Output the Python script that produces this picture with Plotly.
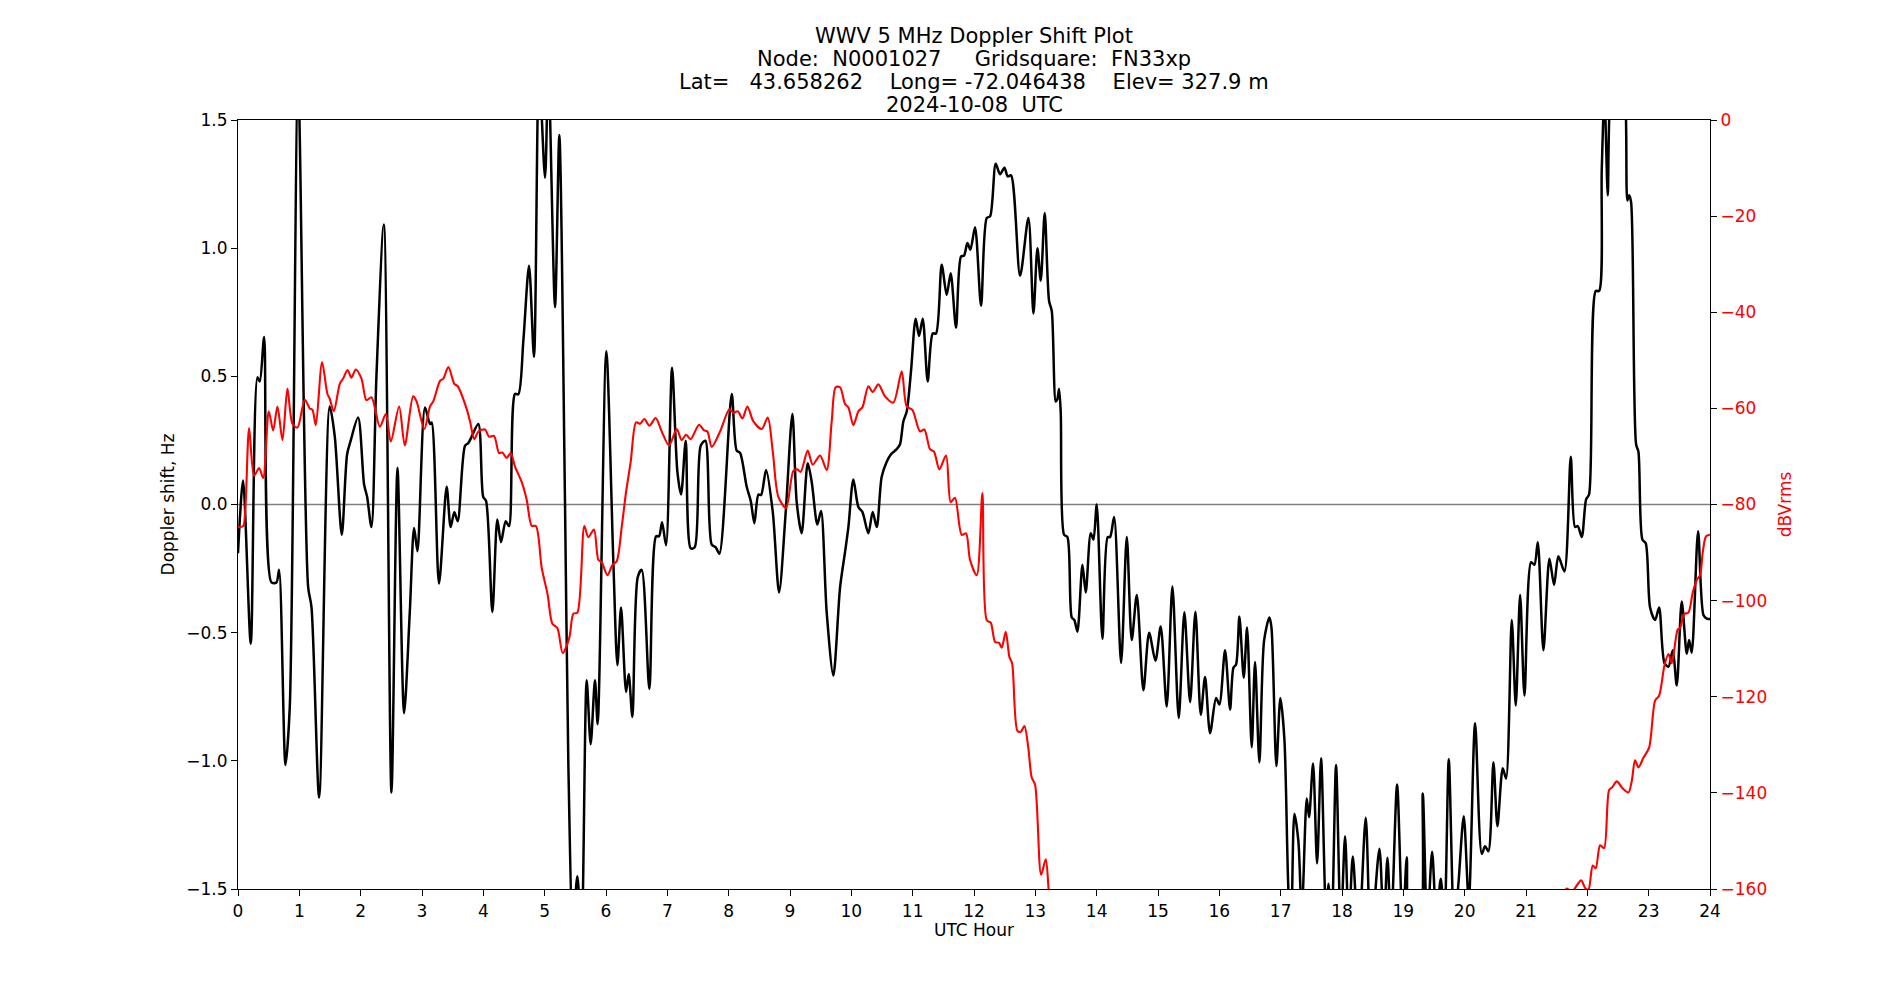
import plotly.graph_objects as go

# ---------------- data ----------------
doppler_hour = [0.0, 0.083, 0.208, 0.317, 0.355, 0.426, 0.545, 0.627, 0.670, 0.774, 0.844, 0.980, 1.143, 1.198, 1.323,
    1.496, 1.578, 1.692, 1.779, 1.833, 1.958, 2.056, 2.105, 2.176, 2.257, 2.377, 2.502, 2.600, 2.708, 2.801, 2.871,
    2.926, 3.049, 3.131, 3.158, 3.277, 3.402, 3.467, 3.527, 3.582, 3.701, 3.756, 3.81, 3.919, 3.998, 4.044, 4.147,
    4.228, 4.288, 4.364, 4.419, 4.516, 4.571, 4.652, 4.745, 4.826, 4.908, 5.006, 5.06, 5.169, 5.239, 5.332, 5.386,
    5.46, 5.533, 5.6, 5.685, 5.75, 5.82, 5.864, 6.005, 6.12, 6.186, 6.245, 6.327, 6.370, 6.430, 6.517, 6.582, 6.707,
    6.816, 6.865, 6.914, 6.979, 7.077, 7.164, 7.224, 7.3, 7.381, 7.446, 7.544, 7.62, 7.724, 7.789, 7.849, 8.05,
    8.131, 8.185, 8.294, 8.36, 8.419, 8.485, 8.528, 8.61, 8.719, 8.822, 8.93, 9.039, 9.109, 9.19, 9.289, 9.354,
    9.446, 9.506, 9.598, 9.707, 9.816, 9.897, 9.952, 10.033, 10.115, 10.18, 10.278, 10.348, 10.414, 10.495, 10.577,
    10.647, 10.74, 10.794, 10.848, 10.903, 10.973, 11.049, 11.104, 11.164, 11.245, 11.327, 11.381, 11.473, 11.555,
    11.62, 11.707, 11.788, 11.838, 11.892, 11.941, 12.017, 12.115, 12.208, 12.262, 12.354, 12.425, 12.496, 12.55,
    12.604, 12.751, 12.887, 12.969, 13.034, 13.088, 13.153, 13.224, 13.268, 13.333, 13.36, 13.387, 13.414, 13.469,
    13.523, 13.594, 13.637, 13.686, 13.768, 13.822, 13.903, 13.947, 14.001, 14.094, 14.18, 14.219, 14.284, 14.398,
    14.491, 14.572, 14.654, 14.762, 14.855, 14.958, 15.044, 15.142, 15.235, 15.338, 15.43, 15.523, 15.61, 15.697,
    15.767, 15.849, 15.947, 16.001, 16.093, 16.175, 16.23, 16.273, 16.327, 16.398, 16.452, 16.528, 16.582, 16.653,
    16.73, 16.816, 16.85, 16.93, 16.995, 17.06, 17.126, 17.17, 17.224, 17.289, 17.344, 17.425, 17.463, 17.528,
    17.594, 17.659, 17.74, 17.778, 17.83, 17.903, 17.98, 18.05, 18.11, 18.176, 18.27, 18.387, 18.47, 18.61, 18.68,
    18.741, 18.8, 18.898, 18.99, 19.056, 19.12, 19.25, 19.317, 19.39, 19.469, 19.54, 19.61, 19.67, 19.741, 19.83,
    19.898, 19.985, 20.067, 20.17, 20.279, 20.333, 20.387, 20.469, 20.534, 20.621, 20.675, 20.768, 20.833, 20.904,
    20.975, 21.083, 21.137, 21.192, 21.284, 21.382, 21.458, 21.528, 21.626, 21.73, 21.8, 21.844, 21.909, 21.98,
    22.028, 22.137, 22.192, 22.235, 22.279, 22.333, 22.376, 22.5, 22.615, 22.653, 22.681, 22.713, 22.795, 22.833,
    22.898, 22.952, 23.023, 23.105, 23.17, 23.257, 23.322, 23.393, 23.458, 23.539, 23.621, 23.659, 23.702, 23.806,
    23.893, 23.947, 24.0]
doppler_hz = [-0.19, 0.094, -0.543, 0.496, 0.48, 0.653, -0.304, -0.304, -0.255, -1.016, -0.79, 1.65, -0.32, -0.40,
    -1.143, 0.382, 0.265, -0.118, 0.196, 0.245, 0.339, 0.078, 0.03, -0.088, 0.5, 1.092, -1.124, 0.143, -0.814, -0.42,
    -0.092, -0.182, 0.378, 0.314, 0.32, -0.308, 0.069, -0.088, -0.03, -0.065, 0.229, 0.24, 0.265, 0.314, 0.03, 0.014,
    -0.42, -0.059, -0.147, -0.065, -0.084, 0.431, 0.43, 0.637, 0.931, 0.575, 1.7, 1.275, 1.7, 0.77, 1.441, 0.0,
    -1.01, -1.65, -1.45, -1.7, -0.686, -0.935, -0.686, -0.857, 0.598, -0.225, -0.627, -0.402, -0.731, -0.661,
    -0.829, -0.284, -0.255, -0.72, -0.124, -0.124, -0.069, -0.159, 0.533, 0.127, 0.039, 0.249, -0.171, -0.167,
    0.229, 0.249, -0.157, -0.167, -0.192, 0.431, 0.21, 0.202, 0.069, 0.014, -0.073, 0.039, 0.037, 0.135, -0.029,
    -0.343, -0.03, 0.353, 0.01, -0.112, 0.161, 0.088, -0.078, -0.025, -0.42, -0.667, -0.324, -0.186, -0.088, 0.098,
    -0.01, -0.029, -0.112, -0.029, -0.088, 0.108, 0.167, 0.196, 0.216, 0.235, 0.324, 0.363, 0.52, 0.725, 0.657,
    0.725, 0.48, 0.667, 0.667, 0.935, 0.818, 0.902, 0.69, 0.967, 0.971, 1.02, 0.994, 1.082, 0.775, 1.118, 1.124,
    1.329, 1.288, 1.314, 1.28, 1.284, 0.892, 1.118, 0.745, 1.0, 0.873, 1.137, 0.794, 0.755, 0.402, 0.412, 0.451,
    0.36, -0.118, -0.127, -0.441, -0.451, -0.496, -0.235, -0.343, -0.112, -0.137, 0.0, -0.524, -0.127, -0.127,
    -0.049, -0.618, -0.127, -0.529, -0.353, -0.725, -0.5, -0.61, -0.476, -0.788, -0.32, -0.833, -0.42, -0.771,
    -0.418, -0.82, -0.673, -0.892, -0.755, -0.78, -0.569, -0.8, -0.637, -0.624, -0.437, -0.676, -0.48, -0.947,
    -0.614, -1.006, -0.53, -0.441, -0.48, -1.02, -0.755, -0.912, -1.5, -1.65, -1.206, -1.314, -1.6, -1.147, -1.22,
    -1.01, -1.4, -0.99, -1.6, -1.48, -1.65, -1.016, -1.65, -1.294, -1.65, -1.373, -1.7, -1.222, -1.7, -1.343,
    -1.65, -1.378, -1.65, -1.092, -1.65, -1.376, -1.7, -1.7, -1.127, -1.65, -1.355, -1.62, -1.46, -1.62, -0.994,
    -1.65, -1.48, -1.216, -1.55, -0.853, -1.363, -1.333, -1.353, -1.006, -1.255, -1.029, -1.069, -0.451, -0.784,
    -0.353, -0.745, -0.225, -0.235, -0.147, -0.569, -0.212, -0.314, -0.202, -0.261, 0.186, -0.088, -0.084, -0.127,
    0.02, 0.039, 0.833, 0.833, 1.304, 1.6, 1.206, 1.6, 1.75, 1.6, 1.186, 1.206, 1.18, 0.235, 0.206, -0.137, -0.151,
    -0.402, -0.451, -0.402, -0.618, -0.633, -0.569, -0.706, -0.378, -0.582, -0.529, -0.578, -0.104, -0.431, -0.445,
    -0.447]

power_hour = [0.0, 0.083, 0.121, 0.181, 0.263, 0.344, 0.41, 0.502, 0.573, 0.643, 0.725, 0.806, 0.888, 0.969, 1.089,
    1.17, 1.214, 1.268, 1.371, 1.458, 1.496, 1.562, 1.66, 1.714, 1.785, 1.85, 1.92, 2.013, 2.094, 2.176, 2.312,
    2.41, 2.491, 2.627, 2.719, 2.855, 2.91, 3.038, 3.131, 3.185, 3.294, 3.348, 3.43, 3.527, 3.582, 3.728, 3.783,
    3.853, 3.919, 4.027, 4.092, 4.174, 4.256, 4.31, 4.38, 4.446, 4.516, 4.625, 4.707, 4.788, 4.859, 4.951, 5.049,
    5.125, 5.207, 5.294, 5.402, 5.468, 5.533, 5.647, 5.712, 5.804, 5.875, 5.93, 6.023, 6.104, 6.175, 6.256, 6.327,
    6.403, 6.49, 6.555, 6.626, 6.707, 6.81, 6.908, 7.028, 7.153, 7.234, 7.305, 7.381, 7.517, 7.599, 7.653, 7.724,
    7.86, 8.012, 8.077, 8.148, 8.224, 8.305, 8.403, 8.539, 8.637, 8.719, 8.81, 8.935, 9.055, 9.12, 9.174, 9.289,
    9.37, 9.49, 9.598, 9.68, 9.745, 9.816, 9.897, 9.952, 10.033, 10.115, 10.18, 10.278, 10.348, 10.441, 10.549,
    10.685, 10.821, 10.903, 10.995, 11.12, 11.19, 11.283, 11.348, 11.435, 11.544, 11.62, 11.69, 11.799, 11.87,
    11.935, 12.045, 12.137, 12.208, 12.273, 12.344, 12.409, 12.452, 12.518, 12.577, 12.621, 12.708, 12.762, 12.822,
    12.887, 12.941, 12.996, 13.094, 13.17, 13.224, 13.3, None, 21.6, 21.664, 21.75, 21.898, 21.97, 22.018, 22.088,
    22.137, 22.208, 22.273, 22.355, 22.409, 22.48, 22.572, 22.67, 22.724, 22.778, 22.833, 22.914, 23.007, 23.105,
    23.17, 23.257, 23.322, 23.376, 23.474, 23.512, 23.577, 23.648, 23.719, 23.784, 23.838, 23.882, 23.936, 24.0]
power_db = [-84.7, -84.5, -80.5, -64.1, -74.0, -72.4, -74.5, -60.6, -64.6, -59.6, -66.6, -55.9, -63.2, -64.0, -58.2,
    -60.0, -60.3, -63.5, -50.4, -57.0, -58.0, -60.6, -54.9, -53.8, -52.0, -53.6, -51.9, -53.8, -58.3, -57.7, -63.8,
    -61.2, -66.9, -59.6, -67.7, -57.5, -58.5, -64.3, -59.6, -58.5, -54.3, -53.8, -51.4, -54.9, -55.4, -60.1, -62.7,
    -66.4, -64.8, -64.4, -65.9, -65.7, -69.3, -69.2, -70.3, -69.3, -72.1, -75.3, -79.0, -84.4, -84.5, -93.1, -98.8,
    -104.8, -105.7, -110.9, -107.7, -102.7, -102.5, -84.5, -86.8, -85.2, -91.5, -92.0, -94.7, -92.6, -91.8, -84.7,
    -77.4, -71.1, -62.9, -63.2, -62.2, -63.6, -62.0, -64.8, -67.7, -64.3, -66.6, -65.5, -66.4, -63.4, -64.6, -64.8,
    -68.0, -64.8, -60.2, -60.9, -60.6, -62.1, -59.6, -62.7, -64.3, -61.9, -69.0, -78.4, -80.7, -73.0, -72.7, -73.2,
    -68.8, -71.7, -69.8, -72.8, -62.7, -55.6, -55.6, -59.1, -59.8, -63.5, -60.6, -59.8, -55.4, -56.6, -55.0, -57.5,
    -58.8, -52.3, -59.6, -60.3, -64.8, -64.4, -68.5, -69.0, -72.7, -69.8, -79.5, -78.6, -86.3, -86.0, -91.5, -94.7,
    -77.6, -104.1, -104.6, -108.6, -108.8, -109.8, -106.5, -111.7, -113.0, -127.1, -127.3, -126.1, -130.8, -136.8,
    -138.3, -157.0, -153.8, -161.2, -168, None, -162, -159.9, -160.5, -158.2, -159.9, -160.1, -155.1, -155.7,
    -150.9, -151.5, -139.4, -138.8, -137.6, -139.0, -139.9, -137.6, -133.2, -134.7, -132.7, -130.6, -120.8, -119.8,
    -113.5, -111.1, -113.0, -106.0, -105.7, -102.8, -102.5, -98.3, -95.7, -94.7, -89.9, -86.6, -86.3]

hour_ticks = list(range(0, 25))
hz_ticks = [-1.5, -1.0, -0.5, 0.0, 0.5, 1.0, 1.5]
db_ticks = [0, -20, -40, -60, -80, -100, -120, -140, -160]

title_lines = [
    "WWV 5 MHz Doppler Shift Plot",
    "Node:  N0001027     Gridsquare:  FN33xp",
    "Lat=   43.658262    Long= -72.046438    Elev= 327.9 m",
    "2024-10-08  UTC",
]

# ---------------- figure ----------------
FONT = "DejaVu Sans"
W, H = 1900, 1000
L, R, T, B = 238, 190, 120, 111
plot_h = H - T - B

fig = go.Figure()
fig.add_trace(go.Scatter(x=power_hour, y=power_db, mode="lines", yaxis="y2",
                         line=dict(color="red", width=2.1, shape="spline", smoothing=0.8),
                         connectgaps=False, hoverinfo="skip"))
fig.add_trace(go.Scatter(x=doppler_hour, y=doppler_hz, mode="lines", yaxis="y",
                         line=dict(color="black", width=2.5, shape="spline", smoothing=0.8),
                         hoverinfo="skip"))

fig.add_shape(type="line", xref="x", yref="y", x0=0, x1=24, y0=0, y1=0,
              line=dict(color="gray", width=1.3), layer="below")

offsets = [84, 61, 38, 15]
for txt, off in zip(title_lines, offsets):
    fig.add_annotation(text=txt.replace(" ", "\u00a0"), xref="paper", yref="paper", x=0.5,
                       y=1 + off / plot_h, xanchor="center", yanchor="middle", showarrow=False,
                       font=dict(family=FONT, size=21, color="black"))

axis_common = dict(showgrid=False, zeroline=False, ticks="outside", ticklen=6, tickwidth=1.2,
                   tickcolor="black", showline=True, linecolor="black", linewidth=1.2)

fig.update_layout(
    width=W, height=H,
    margin=dict(l=L, r=R, t=T, b=B),
    paper_bgcolor="white", plot_bgcolor="white",
    showlegend=False,
    font=dict(family=FONT, size=17, color="black"),
    xaxis=dict(range=[0, 24], tickvals=hour_ticks, ticktext=[str(h) for h in hour_ticks],
               mirror=True, title=dict(text="UTC Hour", standoff=3, font=dict(size=17)),
               **axis_common),
    yaxis=dict(range=[-1.5, 1.5], tickvals=hz_ticks, tickformat=".1f", mirror=True,
               title=dict(text="Doppler shift, Hz", standoff=7, font=dict(size=17)),
               **axis_common),
    yaxis2=dict(range=[-160, 0], tickvals=db_ticks, overlaying="y", side="right",
                tickfont=dict(color="red"),
                title=dict(text="dBVrms", standoff=12, font=dict(size=17, color="red")),
                **axis_common),
)

fig.write_html("out.html")
